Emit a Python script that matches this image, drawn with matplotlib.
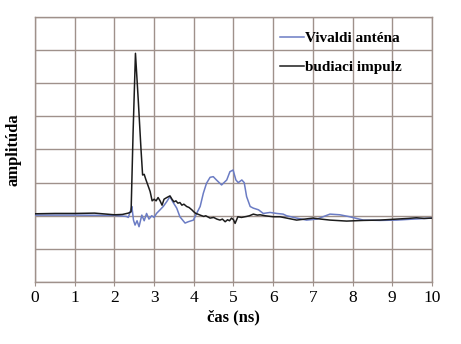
import matplotlib
matplotlib.use("Agg")
import matplotlib.pyplot as plt

# budiaci impulz (black)
t_imp = [0, 0.5, 1.0, 1.5, 2.0, 2.2, 2.35, 2.42, 2.47, 2.53, 2.6, 2.67, 2.71, 2.75, 2.79,
         2.85, 2.9, 2.95, 3.0, 3.05, 3.1, 3.15, 3.2, 3.25, 3.32, 3.4, 3.45, 3.5, 3.55, 3.6,
         3.65, 3.7, 3.75, 3.82, 3.88, 3.95, 4.0, 4.05, 4.1, 4.16, 4.25, 4.3, 4.41, 4.5, 4.58,
         4.66, 4.72, 4.79, 4.85, 4.9, 4.95, 5.0, 5.04, 5.11, 5.2, 5.33, 5.4, 5.5, 5.6, 5.67,
         5.8, 6.0, 6.17, 6.34, 6.59, 6.8, 7.0, 7.2, 7.43, 7.85, 8.27, 8.69, 9.11, 9.4, 9.61,
         9.8, 10]
v_imp = [2.06, 2.07, 2.07, 2.08, 2.03, 2.04, 2.08, 2.12, 4.5, 6.9, 5.5, 4.0, 3.23, 3.25, 3.1,
         2.9, 2.73, 2.45, 2.5, 2.45, 2.55, 2.45, 2.32, 2.5, 2.55, 2.6, 2.5, 2.42, 2.45, 2.38,
         2.4, 2.32, 2.35, 2.28, 2.25, 2.18, 2.12, 2.07, 2.05, 2.02, 1.98, 2.0, 1.93, 1.95, 1.9,
         1.87, 1.9, 1.82, 1.88, 1.85, 1.93, 1.88, 1.77, 1.97, 1.95, 1.98, 2.0, 2.05, 2.02, 2.03,
         2.0, 1.97, 1.97, 1.93, 1.87, 1.9, 1.93, 1.9, 1.87, 1.84, 1.86, 1.87, 1.9, 1.92, 1.94,
         1.92, 1.93]

# Vivaldi anténa (blue)
t_viv = [0, 1.0, 2.0, 2.3, 2.35, 2.42, 2.44, 2.48, 2.52, 2.57, 2.62, 2.69, 2.75, 2.81, 2.87,
         2.94, 3.0, 3.06, 3.15, 3.23, 3.32, 3.4, 3.48, 3.57, 3.65, 3.78, 3.86, 3.99, 4.07,
         4.16, 4.24, 4.32, 4.41, 4.49, 4.57, 4.7, 4.83, 4.91, 4.99, 5.06, 5.12, 5.21, 5.27,
         5.33, 5.42, 5.5, 5.63, 5.75, 5.92, 6.09, 6.25, 6.34, 6.59, 6.84, 7.1, 7.43, 7.68,
         7.93, 8.27, 8.69, 9.11, 9.53, 10]
v_viv = [2.02, 2.02, 2.01, 1.98, 1.95, 2.2, 2.28, 1.87, 1.72, 1.85, 1.67, 2.02, 1.85, 2.07, 1.9,
         2.0, 1.95, 2.07, 2.18, 2.28, 2.43, 2.58, 2.4, 2.23, 1.97, 1.78, 1.82, 1.87, 2.07,
         2.28, 2.68, 2.98, 3.16, 3.18, 3.08, 2.93, 3.08, 3.33, 3.38, 3.08, 3.0, 3.08, 3.0,
         2.58, 2.28, 2.23, 2.18, 2.07, 2.1, 2.07, 2.05, 2.0, 1.93, 1.87, 1.9, 2.05, 2.03,
         1.97, 1.87, 1.86, 1.87, 1.9, 1.93]

x_ticks = list(range(0, 11))

plt.rcParams['font.family'] = ['Liberation Serif', 'DejaVu Serif']

fig = plt.figure(figsize=(4.61, 3.44), dpi=100)
ax = fig.add_axes([0.076, 0.18, 0.861, 0.771])

grid_col = '#9f918b'
ax.plot(t_viv, v_viv, color='#6b7cc4', lw=1.1, label='Vivaldi anténa', zorder=3)
ax.plot(t_imp, v_imp, color='#1c1c1c', lw=1.1, label='budiaci impulz', zorder=4)

ax.set_xlim(0, 10)
ax.set_ylim(0, 8)
ax.set_xticks(x_ticks)
ax.set_yticks(range(0, 9))
ax.set_yticklabels([])
ax.tick_params(axis='y', length=0)
ax.tick_params(axis='x', length=3, color=grid_col, labelsize=12.5, pad=3)
ax.grid(True, color=grid_col, lw=1.0)
ax.set_axisbelow(True)
for s in ax.spines.values():
    s.set_color(grid_col)
    s.set_linewidth(1.0)

ax.set_xlabel('čas (ns)', fontsize=12, fontweight='bold', labelpad=2)
ax.set_ylabel('amplitúda', fontsize=12, fontweight='bold', labelpad=6)

leg = ax.legend(loc='upper left', bbox_to_anchor=(0.617, 0.945), frameon=False,
                prop={'size': 11, 'weight': 'bold'}, handlelength=1.55,
                handletextpad=0.1, labelspacing=1.0, borderpad=0, borderaxespad=0)

fig.savefig('out.png', dpi=100)
